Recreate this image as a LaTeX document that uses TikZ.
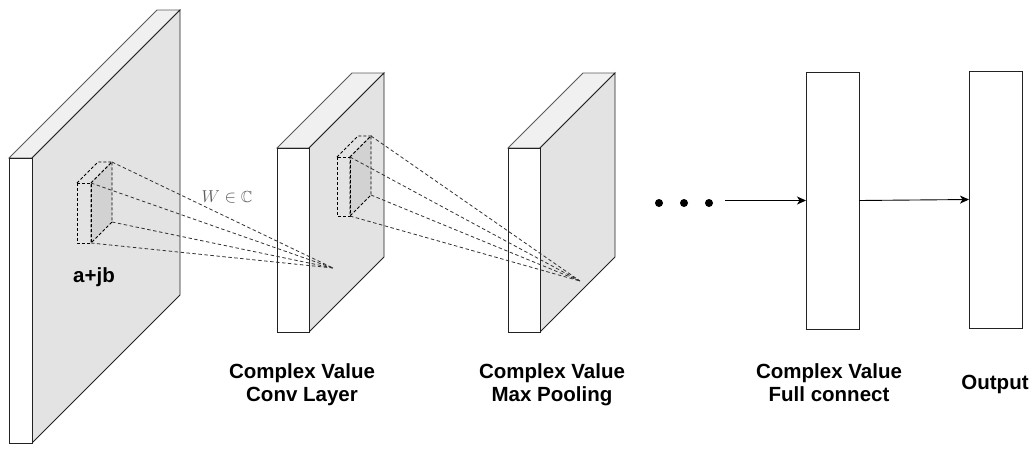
\documentclass[tikz,border=0pt]{standalone}
\usepackage{fontspec}
\usepackage{amssymb}
\setsansfont{Liberation Sans}
\usetikzlibrary{arrows.meta}
\definecolor{sidegray}{HTML}{E3E3E3}
\definecolor{topgray}{HTML}{F0F0F0}
\definecolor{kgray}{HTML}{D2D2D2}
\definecolor{edgec}{HTML}{222222}
\definecolor{topedge}{HTML}{5A5A5A}
\definecolor{raycol}{HTML}{333333}
\definecolor{symcol}{HTML}{5E5E5E}
% slab: name, left, top, right, bottom, depth
\newcommand\myslab[6]{%
  \filldraw[topface] (#2,#3) -- ++(#6,-#6) -- ++({#4-#2},0) -- (#4,#3) -- cycle;
  \filldraw[sideface] (#4,#3) -- ++(#6,-#6) -- ++(0,{#5-#3}) -- (#4,#5) -- cycle;
  \node[frontface, minimum width={(#4-#2)*1pt}, minimum height={(#5-#3)*1pt}, anchor=north west] (#1) at (#2,#3) {};
}
% kernel: prefix, left, top, right, bottom, depth
\newcommand\mykernel[6]{%
  \draw[kedge] (#2,#3) -- ++(#6,-#6) -- ++({#4-#2},0) -- (#4,#3);
  \filldraw[kedge, fill=kgray] (#4,#3) -- ++(#6,-#6) coordinate (#1btr) -- ++(0,{#5-#3}) coordinate (#1bbr) -- (#4,#5) -- cycle;
  \draw[kedge] (#2,#3) rectangle (#4,#5);
  \coordinate (#1ftr) at (#4,#3);
  \coordinate (#1fbr) at (#4,#5);
}
\begin{document}
\begin{tikzpicture}[x=1pt,y=-1pt,
  topface/.style={fill=topgray, draw=topedge, line width=0.9pt, line join=miter},
  sideface/.style={fill=sidegray, draw=edgec, line width=0.9pt},
  frontface/.style={draw=edgec, fill=white, line width=0.9pt, inner sep=0pt, outer sep=0pt},
  kedge/.style={draw=black, line width=0.9pt, dash pattern=on 3pt off 2pt},
  ray/.style={draw=raycol, line width=0.8pt, dash pattern=on 3.5pt off 2.5pt},
  lbl/.style={font=\sffamily\bfseries\fontsize{20.5}{23}\selectfont, align=center, inner sep=0pt},
  box/.style={draw=edgec, fill=white, line width=0.9pt, inner sep=0pt, outer sep=0pt},
  arr/.style={draw=black, line width=0.9pt, -{Stealth[length=9pt,width=8pt,inset=2.5pt]}},
  dot/.style={circle, fill=black, inner sep=0pt, minimum size=8pt}
]
\useasboundingbox (0,0) rectangle (1035,448);

% plates
\myslab{input}{9}{158}{32}{443}{148}
\myslab{conv}{277}{148}{309}{332}{75}
\myslab{pool}{508}{148}{540}{332}{75}

% kernels
\mykernel{ka}{77}{183}{91}{243}{21}
\mykernel{kb}{337}{157}{350}{216}{21}

% convergence points
\coordinate (ca) at (333,268);
\coordinate (cb) at (580,281);

\foreach \p in {btr,ftr,bbr,fbr} {
  \draw[ray] (ka\p) -- (ca);
  \draw[ray] (kb\p) -- (cb);
}

% dense layers
\node[box, minimum width=53pt, minimum height=257pt, anchor=north west] (fc) at (806,72) {};
\node[box, minimum width=53pt, minimum height=257pt, anchor=north west] (out) at (969,71) {};

% dots
\node[dot] (d1) at (659,203) {};
\node[dot] (d2) at (684,203) {};
\node[dot] (d3) at (709,203) {};
\coordinate (arrstart) at (725,200.5);

\draw[arr] (arrstart) -- (arrstart -| fc.west);
\draw[arr] (fc.east) -- (out.west);

% texts
\node[lbl] (tin) at (94,277) {a+jb};
\node[text=symcol, font=\fontsize{16}{18}\selectfont, inner sep=0pt] (tw) at (227,197) {$W\in\mathbb{C}$};
\node[lbl] (tconv) at (302,385) {\strut Complex Value\\Conv Layer\strut};
\node[lbl] (tpool) at (552,385) {\strut Complex Value\\Max Pooling\strut};
\node[lbl] (tfc) at (829,385) {\strut Complex Value\\Full connect\strut};
\node[lbl] (tout) at (995,385) {\strut Output};
\end{tikzpicture}
\end{document}
